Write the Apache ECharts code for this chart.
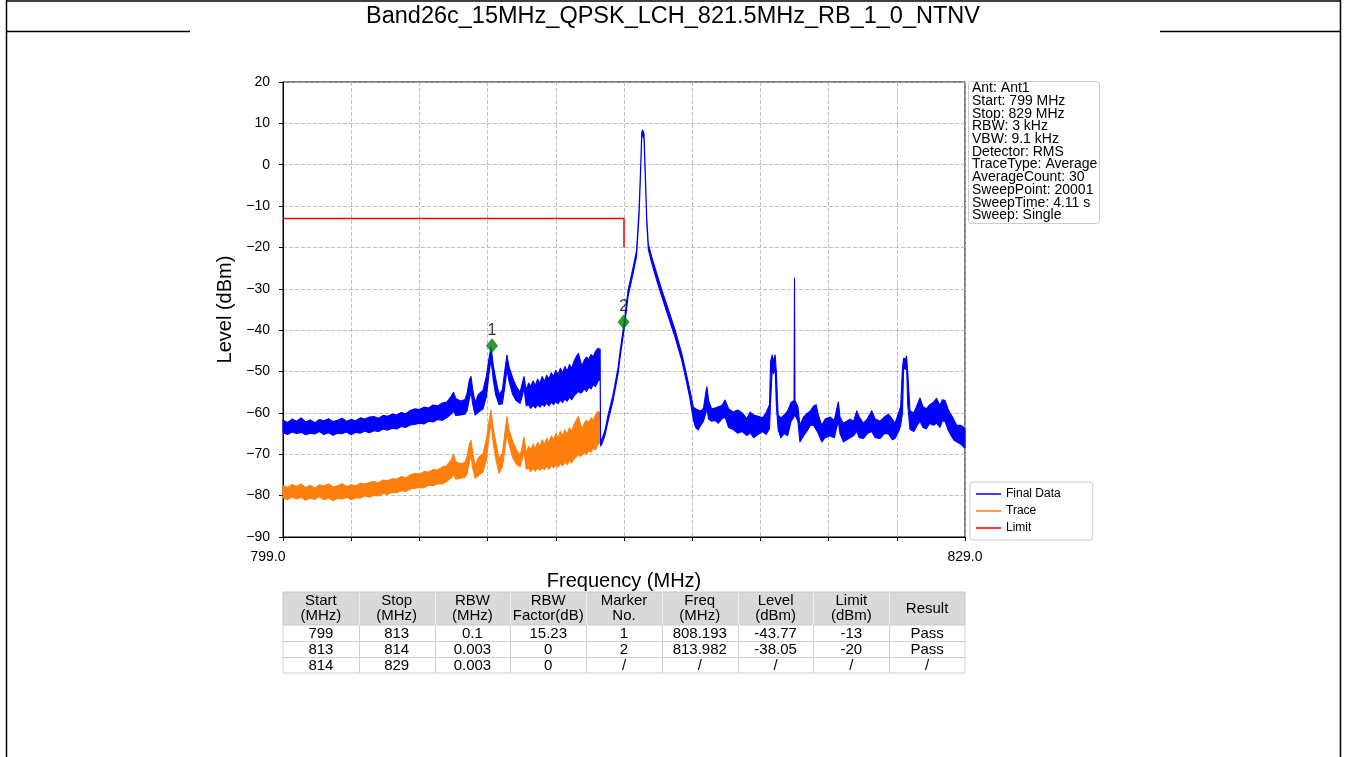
<!DOCTYPE html>
<html>
<head>
<meta charset="utf-8">
<script src="https://cdn.jsdelivr.net/npm/echarts@6/dist/echarts.min.js"></script>
<style>
  html, body { margin: 0; padding: 0; background: #fff; }
  #chart { width: 1346px; height: 757px; }
</style>
</head>
<body>
<div id="chart"></div>
<script>
// ---- Sheet title ----
const sheetTitle = 'Band26c_15MHz_QPSK_LCH_821.5MHz_RB_1_0_NTNV';

// ---- Final Data (RMS average, band-corrected), envelope of the noisy trace ----
const finalFreq = [
  // 799.0 - 809.6
  799.0, 799.2, 799.4, 799.6, 799.8, 800.0, 800.2, 800.4, 800.6, 800.8,
  801.0, 801.2, 801.4, 801.6, 801.8, 802.0, 802.2, 802.4, 802.6, 802.8,
  803.0, 803.2, 803.4, 803.6, 803.8, 804.0, 804.2, 804.4, 804.6, 804.8,
  805.0, 805.2, 805.4, 805.6, 805.8, 806.0, 806.2, 806.4, 806.5, 806.6,
  806.8, 807.0, 807.1, 807.2, 807.27, 807.35, 807.45, 807.6, 807.8, 807.95,
  808.05, 808.15, 808.25, 808.35, 808.5, 808.65, 808.75, 808.85, 808.95, 809.1,
  809.25, 809.43, 809.52, 809.6,
  // 809.7 - 812.95
  809.7, 809.8, 809.9, 810.0, 810.1, 810.2, 810.3, 810.4, 810.5, 810.6,
  810.7, 810.8, 810.9, 811.0, 811.1, 811.2, 811.3, 811.4, 811.5, 811.6,
  811.7, 811.8, 811.9, 812.0, 812.08, 812.15, 812.25, 812.35, 812.45, 812.55,
  812.65, 812.75, 812.85, 812.95,
  // 812.97 - 829.0
  812.97, 813.03, 813.16, 813.3,
  813.52, 813.74, 813.83, 814.0, 814.18, 814.4, 814.55, 814.66, 814.73, 814.78,
  814.82, 814.88, 814.93, 815.0, 815.07, 815.22, 815.44, 815.66, 815.95, 816.24,
  816.54, 816.76, 816.9, 817.05, 817.15, 817.26, 817.4, 817.5, 817.6, 817.65,
  817.72, 817.85, 818.0, 818.15, 818.3, 818.45, 818.6, 818.8, 819.0, 819.2,
  819.4, 819.55, 819.7, 819.9, 820.1, 820.25, 820.4, 820.45, 820.52, 820.58,
  820.65, 820.7, 820.78, 820.9, 821.05, 821.2, 821.35, 821.48, 821.5, 821.52,
  821.65, 821.74, 821.9, 822.04, 822.2, 822.33, 822.45, 822.55, 822.7, 822.85,
  823.06, 823.25, 823.38, 823.43, 823.5, 823.65, 823.8, 823.94, 824.1, 824.24,
  824.35, 824.53, 824.7, 824.9, 825.05, 825.26, 825.45, 825.63, 825.8, 825.92,
  826.08, 826.17, 826.25, 826.3, 826.38, 826.43, 826.48, 826.58, 826.75, 826.9,
  827.02, 827.15, 827.3, 827.45, 827.6, 827.75, 827.9, 828.0, 828.12, 828.25,
  828.34, 828.5, 828.63, 828.8, 828.93, 829.0
];
const finalLow = [
  -64.8, -65.2, -64.6, -65.0, -64.7, -65.3, -64.9, -65.1, -64.5, -65.2,
  -64.8, -65.4, -64.9, -65.0, -64.6, -65.3, -64.7, -64.9, -64.4, -64.8,
  -64.3, -64.5, -63.9, -64.2, -63.7, -63.9, -63.3, -63.5, -62.9, -62.8,
  -62.5, -62.7, -62.0, -62.2, -61.6, -61.8, -61.2, -60.3, -59.5, -60.6,
  -60.5, -60.3, -59.4, -56.5, -55.0, -58.0, -60.5, -59.8, -59.0, -56.0,
  -51.0, -47.0, -52.0, -55.5, -58.0, -57.8, -54.0, -49.5, -52.5, -55.5,
  -57.0, -57.7, -56.0, -54.0,
  -58.3, -58.0, -58.9, -58.2, -58.8, -58.0, -58.6, -57.9, -58.4, -57.6,
  -58.3, -57.4, -58.0, -57.2, -57.8, -56.9, -57.5, -56.6, -57.2, -56.2,
  -56.8, -55.9, -55.3, -54.8, -55.2, -55.0, -54.2, -54.8, -53.8, -54.2,
  -53.2, -53.6, -52.4, -51.8,
  -68.0, -67.5, -65.5, -62.0,
  -57.0, -50.5, -46.5, -40.0, -31.8, -26.3, -22.2, -12.5, -2.0, 6.5,
  7.2, 6.2, -2.0, -14.0, -20.5, -23.8, -28.0, -31.8, -36.8, -41.6,
  -47.3, -52.8, -56.5, -61.7, -63.5, -64.1, -62.8, -62.0, -60.0, -59.0,
  -61.5, -62.0, -61.8, -62.5, -61.5, -61.0, -63.5, -64.0, -64.9, -64.5,
  -65.5, -64.8, -66.0, -65.2, -64.5, -65.2, -63.8, -57.0, -49.5, -50.5,
  -49.0, -58.0, -64.0, -66.0, -65.0, -65.5, -62.0, -61.0, -60.0, -60.5,
  -62.0, -67.0, -65.5, -64.5, -63.0, -63.0, -64.0, -65.0, -67.0, -66.0,
  -65.5, -66.0, -63.0, -62.0, -65.0, -67.0, -66.5, -66.0, -65.5, -64.5,
  -66.0, -66.2, -65.0, -64.5, -66.0, -66.2, -65.0, -65.0, -66.5, -66.2,
  -64.5, -63.0, -60.0, -49.0, -49.5, -48.5, -58.0, -64.0, -64.5, -63.0,
  -62.0, -63.5, -63.8, -62.5, -63.0, -62.5, -63.5, -62.0, -62.0, -64.0,
  -65.0, -66.5, -67.0, -67.5, -68.2, -68.5
];
const finalHigh = [
  -61.8, -62.3, -61.5, -62.0, -61.2, -62.2, -61.7, -62.4, -61.6, -61.9,
  -61.4, -62.1, -61.8, -61.3, -62.0, -61.6, -61.9, -61.2, -61.5, -61.0,
  -60.9, -61.3, -60.6, -60.8, -60.3, -60.5, -59.9, -60.2, -59.4, -59.0,
  -59.2, -58.6, -58.8, -58.1, -58.3, -57.6, -57.4, -56.0, -55.0, -56.5,
  -57.1, -56.8, -55.2, -52.0, -51.2, -54.5, -57.5, -55.5, -54.5, -51.0,
  -47.2, -44.0, -48.5, -51.5, -55.5, -54.5, -50.0, -46.0, -49.0, -51.5,
  -53.5, -55.0, -53.0, -51.2,
  -54.5, -52.8, -53.6, -52.3, -53.4, -51.8, -52.9, -51.2, -52.4, -50.9,
  -51.8, -50.3, -51.2, -49.7, -50.8, -49.2, -50.3, -48.8, -49.9, -48.3,
  -49.2, -47.5, -46.4, -45.6, -47.4, -48.6, -47.3, -46.5, -47.0, -45.9,
  -46.4, -45.1, -44.4, -44.6,
  -66.5, -66.3, -64.3, -60.5,
  -55.5, -49.0, -45.0, -38.5, -30.3, -24.8, -20.8, -11.0, -0.8, 7.8,
  8.4, 7.5, -0.5, -12.8, -19.2, -22.3, -26.3, -30.2, -35.0, -39.8,
  -45.6, -51.0, -54.5, -58.6, -59.0, -59.3, -59.5, -58.8, -55.0, -53.7,
  -57.0, -59.0, -58.8, -58.5, -58.2, -56.9, -59.0, -59.8, -59.3, -60.0,
  -61.4, -59.8, -60.5, -60.8, -61.2, -60.0, -58.0, -47.5, -46.0, -47.5,
  -46.0, -50.0, -60.5, -61.2, -60.5, -59.5, -57.5, -57.0, -27.4, -57.0,
  -58.5, -63.0, -61.0, -60.2, -59.5, -58.4, -58.0, -60.5, -63.0, -61.5,
  -61.0, -61.8, -58.5, -57.3, -61.0, -62.5, -62.0, -61.5, -62.0, -59.5,
  -61.0, -62.5, -61.5, -59.5, -61.5, -62.0, -61.0, -60.3, -61.5, -62.5,
  -60.0, -58.5, -49.0, -46.8, -47.0, -46.3, -50.0, -59.5, -60.0, -58.0,
  -56.4, -58.5, -59.0, -58.0, -57.5, -56.5, -58.2, -56.8, -57.0, -59.0,
  -60.0, -61.5, -63.0, -63.0, -63.4, -64.0
];

// ---- Trace (raw, 799–813 MHz segment), envelope ----
const traceFreq = [
  799.0, 799.2, 799.4, 799.6, 799.8, 800.0, 800.2, 800.4, 800.6, 800.8,
  801.0, 801.2, 801.4, 801.6, 801.8, 802.0, 802.2, 802.4, 802.6, 802.8,
  803.0, 803.2, 803.4, 803.6, 803.8, 804.0, 804.2, 804.4, 804.6, 804.8,
  805.0, 805.2, 805.4, 805.6, 805.8, 806.0, 806.2, 806.4, 806.5, 806.6,
  806.8, 807.0, 807.1, 807.2, 807.27, 807.35, 807.45, 807.6, 807.8, 807.95,
  808.05, 808.15, 808.25, 808.35, 808.5, 808.65, 808.75, 808.85, 808.95, 809.1,
  809.25, 809.43, 809.52, 809.6,
  809.7, 809.8, 809.9, 810.0, 810.1, 810.2, 810.3, 810.4, 810.5, 810.6,
  810.7, 810.8, 810.9, 811.0, 811.1, 811.2, 811.3, 811.4, 811.5, 811.6,
  811.7, 811.8, 811.9, 812.0, 812.08, 812.15, 812.25, 812.35, 812.45, 812.55,
  812.65, 812.75, 812.85, 812.95
];
const traceLow = [
  -80.5, -81.0, -80.3, -80.8, -80.4, -81.1, -80.6, -80.9, -80.2, -81.0,
  -80.6, -81.2, -80.7, -80.8, -80.4, -81.0, -80.5, -80.6, -80.1, -80.4,
  -79.9, -80.1, -79.5, -79.7, -79.2, -79.3, -78.8, -79.0, -78.4, -78.2,
  -78.0, -78.1, -77.5, -77.6, -77.1, -77.2, -76.6, -75.7, -74.8, -76.0,
  -75.8, -75.6, -74.6, -71.8, -70.4, -73.4, -75.8, -75.1, -74.3, -71.3,
  -66.3, -62.3, -67.3, -70.8, -74.6, -73.1, -69.3, -64.8, -67.8, -70.8,
  -72.3, -73.0, -71.3, -69.3,
  -73.6, -73.3, -74.2, -73.5, -74.1, -73.3, -73.9, -73.2, -73.7, -72.9,
  -73.6, -72.7, -73.3, -72.5, -73.1, -72.2, -72.8, -71.9, -72.5, -71.5,
  -72.1, -71.2, -70.6, -70.1, -70.5, -70.3, -69.5, -70.1, -69.1, -69.5,
  -68.5, -68.9, -67.7, -67.1
];
const traceHigh = [
  -77.6, -78.0, -77.3, -77.8, -77.2, -78.1, -77.5, -78.2, -77.4, -77.7,
  -77.2, -77.9, -77.6, -77.1, -77.8, -77.4, -77.6, -77.0, -77.2, -76.8,
  -76.6, -76.9, -76.2, -76.4, -75.9, -76.0, -75.4, -75.7, -75.0, -74.6,
  -74.8, -74.2, -74.3, -73.7, -73.8, -73.1, -72.8, -71.3, -70.0, -71.8,
  -72.3, -72.0, -70.5, -67.4, -66.6, -69.8, -72.8, -70.8, -69.8, -66.3,
  -62.4, -59.3, -63.8, -66.8, -71.0, -69.8, -65.3, -60.9, -64.3, -66.8,
  -68.8, -70.3, -68.3, -65.8,
  -69.8, -68.1, -68.9, -67.6, -68.7, -67.1, -68.2, -66.5, -67.7, -66.2,
  -67.1, -65.6, -66.5, -65.0, -66.1, -64.5, -65.6, -64.1, -65.2, -63.6,
  -64.5, -62.8, -61.7, -60.9, -62.7, -63.9, -62.6, -61.8, -62.3, -61.2,
  -61.7, -60.4, -59.7, -59.9
];

// ---- Limit line ----
const limitFreq = [799, 814, 814];
const limitLevel = [-13, -13, -20];

// ---- Markers ----
const markerNo = ['1', '2'];
const markerFreq = [808.193, 813.982];
const markerLevel = [-43.77, -38.05];

// ---- Sweep settings box ----
const sweepInfo = [
  'Ant: Ant1', 'Start: 799 MHz', 'Stop: 829 MHz', 'RBW: 3 kHz', 'VBW: 9.1 kHz',
  'Detector: RMS', 'TraceType: Average', 'AverageCount: 30', 'SweepPoint: 20001',
  'SweepTime: 4.11 s', 'Sweep: Single'
];

// ---- Result table ----
const tableHeader = ['Start\n(MHz)', 'Stop\n(MHz)', 'RBW\n(MHz)', 'RBW\nFactor(dB)', 'Marker\nNo.',
  'Freq\n(MHz)', 'Level\n(dBm)', 'Limit\n(dBm)', 'Result'];
const segStart = ['799', '813', '814'];
const segStop = ['813', '814', '829'];
const segRbw = ['0.1', '0.003', '0.003'];
const segFactor = ['15.23', '0', '0'];
const segMarker = [0, 1, null];
const segLimit = ['-13', '-20', '/'];
const segResult = ['Pass', 'Pass', '/'];

// ---- Axis ticks ----
const xMin = 799, xMax = 829, xStep = 3;
const yMin = -90, yMax = 20, yStep = 10;

const FONT = "'Liberation Sans', Arial, Helvetica, sans-serif";

// Noisy trace drawn as a filled band between its lower and upper envelope
function bandSeries(name, color, freq, low, high, z) {
  return {
    name: name,
    type: 'custom',
    coordinateSystem: 'cartesian2d',
    z: z,
    silent: true,
    itemStyle: { color: color },
    encode: { x: 0, y: 1 },
    data: [[freq[0], low[0]]],
    renderItem: function (params, api) {
      const pts = [];
      for (let i = 0; i < freq.length; i++) pts.push(api.coord([freq[i], high[i]]));
      for (let i = freq.length - 1; i >= 0; i--) pts.push(api.coord([freq[i], low[i]]));
      return {
        type: 'polygon',
        shape: { points: pts },
        style: { fill: color, stroke: color, lineWidth: 1.1, lineJoin: 'round' }
      };
    }
  };
}

// Result table as graphic elements
function buildTable() {
  const x0 = 283, totalW = 682, cols = tableHeader.length;
  const cw = totalW / cols;
  const headTop = 592, headH = 33, rowH = 16;
  const els = [];
  els.push({ type: 'rect', shape: { x: x0, y: headTop, width: totalW, height: headH },
    style: { fill: '#d9d9d9', stroke: '#c8c8c8', lineWidth: 1 } });
  const rows = segStart.map((s, i) => {
    const m = segMarker[i];
    return [s, segStop[i], segRbw[i], segFactor[i],
      m === null ? '/' : markerNo[m],
      m === null ? '/' : String(markerFreq[m]),
      m === null ? '/' : String(markerLevel[m]),
      segLimit[i], segResult[i]];
  });
  const bodyTop = headTop + headH;
  els.push({ type: 'rect', shape: { x: x0, y: bodyTop, width: totalW, height: rowH * rows.length },
    style: { fill: '#fff', stroke: '#cfcfcf', lineWidth: 1 } });
  for (let c = 1; c < cols; c++) {
    const x = Math.round(x0 + c * cw) + 0.5;
    els.push({ type: 'line', shape: { x1: x, y1: headTop, x2: x, y2: headTop + headH },
      style: { stroke: '#eeeeee', lineWidth: 1 } });
    els.push({ type: 'line', shape: { x1: x, y1: bodyTop, x2: x, y2: bodyTop + rowH * rows.length },
      style: { stroke: '#cfcfcf', lineWidth: 1 } });
  }
  for (let r = 1; r < rows.length; r++) {
    const y = bodyTop + r * rowH + 0.5;
    els.push({ type: 'line', shape: { x1: x0, y1: y, x2: x0 + totalW, y2: y },
      style: { stroke: '#cfcfcf', lineWidth: 1 } });
  }
  tableHeader.forEach((h, c) => {
    els.push({ type: 'text', x: x0 + (c + 0.5) * cw, y: headTop + headH / 2,
      style: { text: h, font: '15px ' + FONT, fill: '#000', align: 'center',
        verticalAlign: 'middle', lineHeight: 15 } });
  });
  rows.forEach((row, r) => {
    row.forEach((v, c) => {
      els.push({ type: 'text', x: x0 + (c + 0.5) * cw, y: bodyTop + r * rowH + rowH / 2 + 0.5,
        style: { text: v, font: '15px ' + FONT, fill: '#000', align: 'center', verticalAlign: 'middle' } });
    });
  });
  return els;
}

const chart = echarts.init(document.getElementById('chart'), null, { renderer: 'canvas' });

const graphics = [
  // page frame
  { type: 'line', shape: { x1: 6.5, y1: 0, x2: 6.5, y2: 757 }, style: { stroke: '#000', lineWidth: 1.5 } },
  { type: 'line', shape: { x1: 1340.5, y1: 0, x2: 1340.5, y2: 757 }, style: { stroke: '#000', lineWidth: 1.5 } },
  { type: 'line', shape: { x1: 6, y1: 1, x2: 1341, y2: 1 }, style: { stroke: '#000', lineWidth: 1.5 } },
  { type: 'line', shape: { x1: 6, y1: 31.5, x2: 190, y2: 31.5 }, style: { stroke: '#000', lineWidth: 1.5 } },
  { type: 'line', shape: { x1: 1160, y1: 31.5, x2: 1341, y2: 31.5 }, style: { stroke: '#000', lineWidth: 1.5 } },
  { type: 'text', x: 673, y: 17, style: { text: sheetTitle, font: '23.5px ' + FONT, fill: '#000',
    align: 'center', verticalAlign: 'middle' } },
  // sweep settings box
  { type: 'rect', shape: { x: 968.5, y: 81.5, width: 131, height: 142, r: 3 },
    style: { fill: '#fff', stroke: '#cccccc', lineWidth: 1 }, z: 10 },
  { type: 'text', x: 972, y: 82, z: 11, style: { text: sweepInfo.join('\n'), font: '14px ' + FONT,
    fill: '#000', lineHeight: 12.7, align: 'left', verticalAlign: 'top' } }
].concat(buildTable());

const option = {
  animation: false,
  backgroundColor: '#fff',
  graphic: graphics,
  grid: { left: 283, top: 82, width: 682, height: 455, show: true, borderColor: '#000', borderWidth: 1,
    backgroundColor: 'transparent', containLabel: false },
  legend: {
    orient: 'vertical', left: 970, top: 482,
    data: [{ name: 'Final Data', icon: 'rect' }, { name: 'Trace', icon: 'rect' }, { name: 'Limit', icon: 'rect' }],
    itemWidth: 25, itemHeight: 1.5, itemGap: 5,
    textStyle: { fontSize: 12, color: '#000', fontFamily: FONT },
    borderColor: '#cccccc', borderWidth: 1, borderRadius: 3, backgroundColor: '#fff',
    padding: [6, 32, 6, 6], selectedMode: false
  },
  xAxis: {
    type: 'value', min: xMin, max: xMax, interval: xStep,
    name: 'Frequency (MHz)', nameLocation: 'middle', nameGap: 34,
    nameTextStyle: { fontSize: 20, color: '#000', fontFamily: FONT },
    axisLine: { show: true, onZero: false, lineStyle: { color: '#000', width: 1 } },
    axisTick: { show: true, inside: false, length: 4, lineStyle: { color: '#000' } },
    axisLabel: {
      fontSize: 14, color: '#000', fontFamily: FONT, margin: 13,
      formatter: v => v === xMin ? '{first|' + v.toFixed(1) + '}' : (v === xMax ? v.toFixed(1) : ''),
      rich: { first: { fontSize: 14, color: '#000', fontFamily: FONT, padding: [0, 30, 0, 0] } }
    },
    splitLine: { show: true, lineStyle: { color: '#b0b0b0', type: [4, 2], width: 0.8 } }
  },
  yAxis: {
    type: 'value', min: yMin, max: yMax, interval: yStep,
    name: 'Level (dBm)', nameLocation: 'middle', nameGap: 47,
    nameTextStyle: { fontSize: 20, color: '#000', fontFamily: FONT },
    axisLine: { show: true, onZero: false, lineStyle: { color: '#000', width: 1 } },
    axisTick: { show: true, inside: false, length: 4, lineStyle: { color: '#000' } },
    axisLabel: { fontSize: 14, color: '#000', fontFamily: FONT, margin: 13,
      formatter: v => String(v).replace('-', '\u2212') },
    splitLine: { show: true, lineStyle: { color: '#b0b0b0', type: [4, 2], width: 0.8 } }
  },
  series: [
    bandSeries('Trace', '#ff7f0e', traceFreq, traceLow, traceHigh, 2),
    bandSeries('Final Data', '#0000ff', finalFreq, finalLow, finalHigh, 3),
    {
      name: 'Limit', type: 'line', z: 4, symbol: 'none', silent: true,
      data: limitFreq.map((f, i) => [f, limitLevel[i]]),
      lineStyle: { color: '#ff0000', width: 1.5 }, itemStyle: { color: '#ff0000' }
    },
    {
      name: 'Markers', type: 'scatter', z: 5, silent: true,
      symbol: 'diamond', symbolSize: [12, 15],
      itemStyle: { color: '#008000' },
      data: markerFreq.map((f, i) => ({ value: [f, markerLevel[i]], name: markerNo[i] })),
      label: { show: true, position: 'top', distance: 0, formatter: p => p.name,
        fontSize: 16, color: '#000', fontFamily: FONT }
    }
  ]
};

chart.setOption(option);
</script>
</body>
</html>
